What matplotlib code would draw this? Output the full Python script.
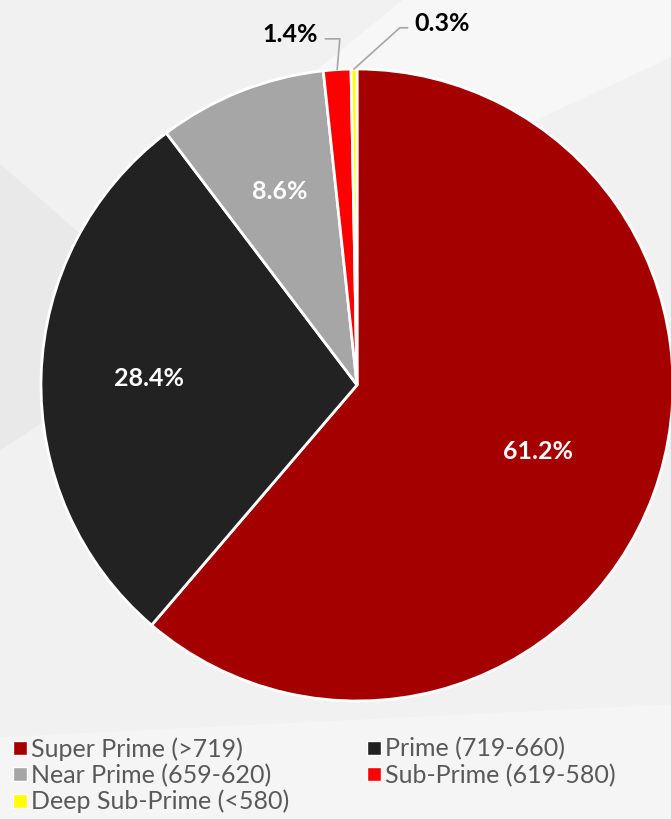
import numpy as np
import matplotlib.pyplot as plt
from matplotlib.patches import Polygon
from matplotlib.lines import Line2D

# credit tiers and their share of the portfolio
tiers = ['Super Prime (>719)', 'Prime (719-660)', 'Near Prime (659-620)',
         'Sub-Prime (619-580)', 'Deep Sub-Prime (<580)']
shares = [61.2, 28.4, 8.6, 1.4, 0.3]
colors = ['#a50000', '#222222', '#a6a6a6', '#ff0000', '#ffff00']

W, H = 671, 819
fig = plt.figure(figsize=(W / 100, H / 100), dpi=100)
fig.patch.set_facecolor('#f1f1f1')

# soft background streaks
bg = [
    ([(0.6, 1.0), (1.0, 1.0), (1.0, 0.93), (0.45, 0.72), (0.3, 0.8)], '#f7f7f7'),
    ([(0.0, 0.45), (0.28, 0.6), (0.0, 0.8)], '#e9e9e9'),
    ([(0.0, 0.0), (1.0, 0.0), (1.0, 0.14), (0.0, 0.1)], '#f5f5f5'),
]
for pts, c in bg:
    fig.add_artist(Polygon(pts, closed=True, transform=fig.transFigure,
                           facecolor=c, edgecolor='none', zorder=0))

# pie placed so that centre is at (357, 385) px with radius 316 px
cx, cy, r = 357, 385, 316
ax = fig.add_axes([(cx - r) / W, (H - cy - r) / H, 2 * r / W, 2 * r / H])

wedges, _ = ax.pie(shares, colors=colors, startangle=90, counterclock=False,
                   radius=1, wedgeprops=dict(edgecolor='white', linewidth=2))
ax.set_xlim(-1, 1)
ax.set_ylim(-1, 1)
ax.set_aspect('equal')
ax.axis('off')

font = 'Lato'
for w, s in zip(wedges, shares):
    ang = np.deg2rad((w.theta1 + w.theta2) / 2)
    if s > 5:
        d = 0.61 if s > 50 else 0.66
        ax.text(d * np.cos(ang), d * np.sin(ang), f'{s}%', ha='center', va='center',
                color='white', fontsize=18, fontweight='bold', family=font)

# small slices labelled outside with leader lines
small = [(3, (-0.21, 1.11), 'right', 'angle,angleA=0,angleB=85'),
         (4, (0.27, 1.145), 'left', 'angle,angleA=180,angleB=42')]
for i, txy, side, cs in small:
    w = wedges[i]
    ang = np.deg2rad((w.theta1 + w.theta2) / 2)
    xy = (np.cos(ang), np.sin(ang))
    ax.annotate(f'{shares[i]}%', xy=xy, xytext=txy, ha='center', va='center',
                fontsize=18, fontweight='bold', family=font, color='black',
                annotation_clip=False,
                arrowprops=dict(arrowstyle='-', color='#a6a6a6', lw=1.2,
                                connectionstyle=cs, shrinkA=3, shrinkB=0,
                                relpos=(1, 0.3) if side == 'right' else (0, 0.3)))

# legend in row-major order
order = [0, 2, 4, 1, 3]
handles = [Line2D([], [], marker='s', linestyle='none', markersize=10,
                  markerfacecolor=colors[k], markeredgecolor='white', markeredgewidth=1)
           for k in order]
fig.legend(handles, [tiers[k] for k in order], ncol=2, loc='upper left',
           bbox_to_anchor=(2 / W, 1 - 727 / H), frameon=False,
           prop=dict(family=font, size=18), labelcolor='#595959',
           handlelength=0.6, handletextpad=0.15, columnspacing=3.1,
           labelspacing=0.12, borderaxespad=0)

fig.savefig('out.png', dpi=100, facecolor=fig.get_facecolor())
